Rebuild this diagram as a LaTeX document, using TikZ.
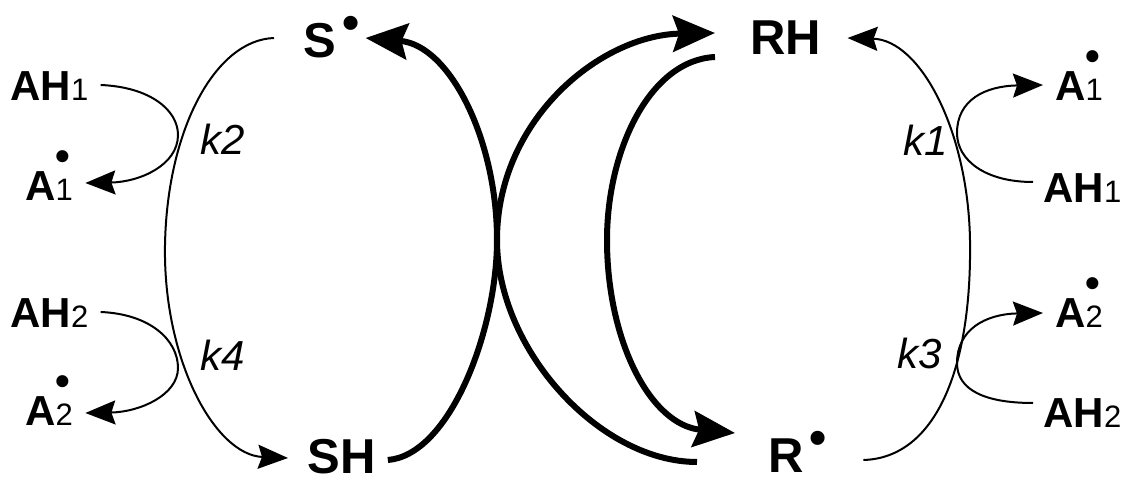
\documentclass[tikz,border=0pt]{standalone}
\usepackage{fontspec}
\setmainfont{Liberation Sans}
\usetikzlibrary{arrows.meta,calc}

\newcommand{\rdot}{\hspace{3pt}\raisebox{9pt}{\textbullet}}
\newcommand{\sub}[1]{{\fontsize{15.5pt}{16pt}\selectfont\mdseries #1}}
\newcommand{\arad}[1]{A\rlap{\raisebox{15pt}{\textbullet}}\sub{#1}}

\tikzset{
    species/.style={font=\fontsize{24.5pt}{28pt}\selectfont\bfseries, inner sep=0pt, anchor=west, text height=17.5pt, text depth=0pt},
    reagent/.style={font=\fontsize{21pt}{24pt}\selectfont\bfseries, inner sep=0pt, anchor=west, text height=14.5pt, text depth=0pt},
    rate/.style={font=\fontsize{21pt}{24pt}\selectfont\itshape, inner sep=0pt, anchor=west, text height=15pt, text depth=0pt},
    mainarc/.style={line width=3pt, -{Stealth[length=21pt, width=18pt, inset=3pt]}},
    sidearc/.style={line width=1pt, -{Stealth[length=15pt, width=12pt, inset=2pt]}}
}

\begin{document}
\begin{tikzpicture}[x=0.5pt, y=-0.5pt]
    \useasboundingbox (0,0) rectangle (1132,481);

    % Main species
    \node[species] (S)  at (303,40)  {S\rdot};
    \node[species] (SH) at (307,456) {SH};
    \node[species] (RH) at (750,37)  {RH};
    \node[species] (R)  at (768,455) {R\rdot};

    % Antioxidants, left
    \node[reagent] (lAH1) at (10,86)  {AH\sub{1}};
    \node[reagent] (lA1)  at (25,186) {\arad{1}};
    \node[reagent] (lAH2) at (10,313) {AH\sub{2}};
    \node[reagent] (lA2)  at (25,411) {\arad{2}};

    % Antioxidants, right
    \node[reagent] (rA1)  at (1055,86)  {\arad{1}};
    \node[reagent] (rAH1) at (1043,188) {AH\sub{1}};
    \node[reagent] (rA2)  at (1055,313) {\arad{2}};
    \node[reagent] (rAH2) at (1043,413) {AH\sub{2}};

    % Rate constants
    \node[rate] (k2) at (200,140) {k2};
    \node[rate] (k4) at (200,356) {k4};
    \node[rate] (k1) at (903,141) {k1};
    \node[rate] (k3) at (897,354) {k3};

    % Central cycle
    \draw[mainarc] ([shift={(12,4)}]SH.east) .. controls (450,455) and (497,330) .. (497,240)
        .. controls (497,140) and (450,45) .. ([shift={(6,-2)}]S.east);
    \draw[mainarc] ([shift={(-71,7)}]R.west) .. controls (600,462) and (497,350) .. (497,240)
        .. controls (497,120) and (600,35) .. ([shift={(-35,-4)}]RH.west);
    \draw[mainarc] ([shift={(-35,20)}]RH.west) .. controls (650,60) and (607,150) .. (607,240)
        .. controls (607,340) and (650,425) .. ([shift={(-33,-22)}]R.west);

    % Side reactions, left
    \draw[sidearc] ([shift={(-29,-2)}]S.west) .. controls (215,40) and (167,130) .. (165,245)
        .. controls (163,360) and (215,455) .. ([shift={(-19,2)}]SH.west);
    \draw[sidearc] ([shift={(12,-1)}]lAH1.east) .. controls (150,87) and (178,110) .. (178,135)
        .. controls (178,165) and (140,182) .. ([shift={(12,-3)}]lA1.east);
    \draw[sidearc] ([shift={(12,-1)}]lAH2.east) .. controls (150,314) and (178,340) .. (178,368)
        .. controls (178,395) and (140,412) .. ([shift={(12,2)}]lA2.east);

    % Side reactions, right
    \draw[sidearc] ([shift={(36,5)}]R.east) .. controls (935,458) and (972,370) .. (970,240)
        .. controls (968,130) and (920,40) .. ([shift={(26,1)}]RH.east);
    \draw[sidearc] ([shift={(-10,-6)}]rAH1.west) .. controls (985,182) and (957,160) .. (957,133)
        .. controls (957,100) and (985,86) .. ([shift={(-12,-1)}]rA1.west);
    \draw[sidearc] ([shift={(-10,-10)}]rAH2.west) .. controls (985,403) and (957,390) .. (957,363)
        .. controls (957,330) and (985,314) .. ([shift={(-12,0)}]rA2.west);

\end{tikzpicture}
\end{document}
